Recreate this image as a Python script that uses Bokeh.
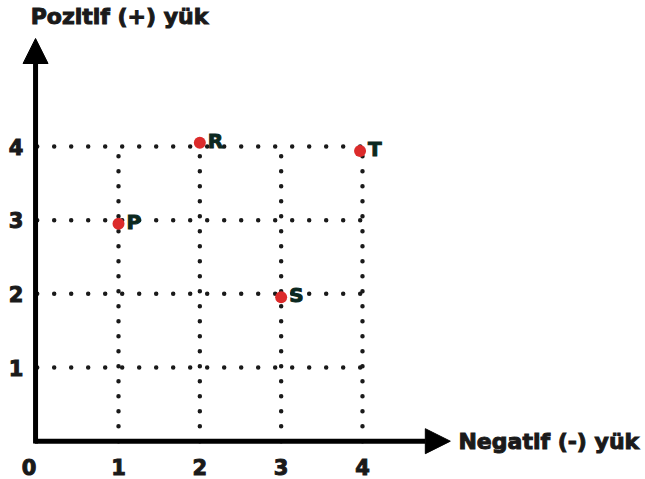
from bokeh.plotting import figure
from bokeh.models import Arrow, NormalHead, ColumnDataSource, Range1d
from bokeh.core.properties import value
from bokeh.embed import file_html
from bokeh.resources import INLINE

# Data
names = ["P", "R", "S", "T"]
neg = [1.0, 2.0, 3.0, 3.97]
pos = [2.95, 4.05, 1.955, 3.94]
ticks = [1, 2, 3, 4]
tick_labels = ["1", "2", "3", "4"]
x_title = "Negatif (-) yük"
y_title = "Pozitif (+) yük"

FONT = value("DejaVu Sans")
TXT = "#0b2820"
INK = "#1a1a1a"

p = figure(width=645, height=479, output_backend="svg", toolbar_location=None,
           x_range=Range1d(-0.451, 7.480), y_range=Range1d(-0.520, 5.982),
           x_axis_location=None, y_axis_location=None, min_border=0)
p.outline_line_color = None
p.grid.visible = False

# dotted grid lines
p.multi_line([[0, 4]] * len(ticks), [[t, t] for t in ticks], line_color=INK,
             line_width=4.5, line_dash="0 17", line_cap="round")
p.multi_line([[t, t] for t in ticks], [[0, 4]] * len(ticks), line_color=INK,
             line_width=4.5, line_dash="0 15", line_cap="round")

# axes with arrows
p.add_layout(Arrow(end=NormalHead(size=25, fill_color="black", line_color="black"),
                   x_start=-0.03, y_start=0, x_end=5.08, y_end=0,
                   line_width=5, line_color="black"))
p.add_layout(Arrow(end=NormalHead(size=25, fill_color="black", line_color="black"),
                   x_start=-0.02, y_start=-0.03, x_end=-0.02, y_end=5.466,
                   line_width=5, line_color="black"))

bold = dict(text_font=FONT, text_font_style="bold", text_baseline="middle")

# tick labels
p.text(x=ticks, y=[0] * len(ticks), text=tick_labels, text_font_size="21px",
       text_align="center", y_offset=26, text_color=INK, text_outline_color=INK, **bold)
p.text(x=[0], y=[0], text=["0"], text_font_size="21px", text_align="center",
       x_offset=-8, y_offset=26, text_color=INK, text_outline_color=INK, **bold)
p.text(x=[0] * len(ticks), y=ticks, text=tick_labels, text_font_size="21px",
       text_align="center", x_offset=-21, text_color=INK, text_outline_color=INK, **bold)

# axis titles
p.text(x=[-0.08], y=[5.765], text=[y_title], text_font_size="22px", text_align="left",
       text_color=INK, text_outline_color=INK, **bold)
p.text(x=[5.18], y=[0], text=[x_title], text_font_size="22px", text_align="left",
       text_color=INK, text_outline_color=INK, **bold)

# points
src = ColumnDataSource(dict(x=neg, y=pos, name=names))
p.scatter("x", "y", source=src, size=12, fill_color="#dc2b2b", line_color=None)
p.text("x", "y", text="name", source=src, text_font_size="20px", text_align="left",
       x_offset=8, y_offset=-2, text_color=TXT, text_outline_color=TXT, **bold)

open("out.html", "w").write(file_html(p, INLINE))
